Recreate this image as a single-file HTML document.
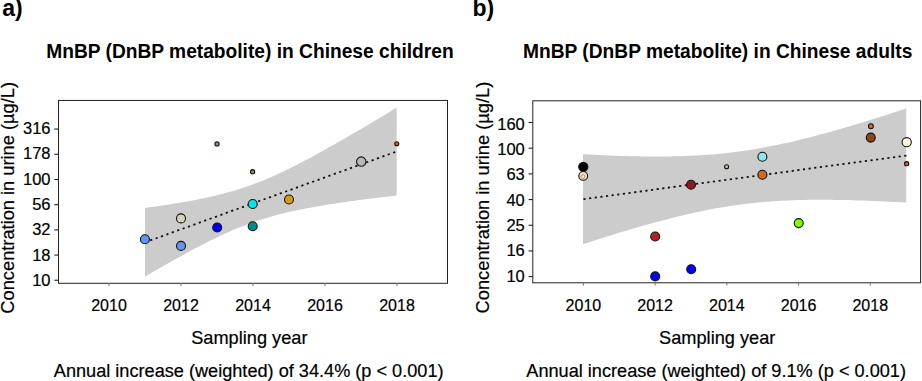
<!DOCTYPE html>
<html><head><meta charset="utf-8"><style>
html,body{margin:0;padding:0;background:#fff;width:922px;height:381px;overflow:hidden}
svg{display:block}
text{font-family:"Liberation Sans",sans-serif;fill:#000;stroke:#000;stroke-width:0.2px}
</style></head><body>
<svg width="922" height="381" viewBox="0 0 922 381">
<path d="M145.00,207.88 L149.19,207.31 L153.39,206.73 L157.59,206.13 L161.78,205.52 L165.97,204.89 L170.17,204.25 L174.37,203.58 L178.56,202.90 L182.75,202.19 L186.95,201.46 L191.14,200.70 L195.34,199.90 L199.53,199.08 L203.73,198.22 L207.93,197.32 L212.12,196.38 L216.31,195.39 L220.51,194.36 L224.70,193.27 L228.90,192.12 L233.09,190.92 L237.29,189.65 L241.48,188.32 L245.68,186.92 L249.88,185.46 L254.07,183.92 L258.26,182.32 L262.46,180.65 L266.65,178.92 L270.85,177.13 L275.04,175.27 L279.24,173.35 L283.44,171.39 L287.63,169.37 L291.82,167.30 L296.02,165.19 L300.22,163.04 L304.41,160.85 L308.61,158.63 L312.80,156.38 L317.00,154.09 L321.19,151.79 L325.38,149.45 L329.58,147.10 L333.77,144.73 L337.97,142.34 L342.16,139.93 L346.36,137.50 L350.55,135.06 L354.75,132.61 L358.94,130.15 L363.14,127.68 L367.33,125.19 L371.53,122.70 L375.73,120.20 L379.92,117.69 L384.12,115.17 L388.31,112.65 L392.50,110.12 L396.70,107.58 L396.70,195.40 L392.50,195.89 L388.31,196.39 L384.12,196.89 L379.92,197.40 L375.73,197.92 L371.53,198.44 L367.33,198.97 L363.14,199.52 L358.94,200.07 L354.75,200.63 L350.55,201.21 L346.36,201.80 L342.16,202.40 L337.97,203.02 L333.77,203.65 L329.58,204.31 L325.38,204.98 L321.19,205.67 L317.00,206.39 L312.80,207.14 L308.61,207.91 L304.41,208.72 L300.22,209.56 L296.02,210.43 L291.82,211.35 L287.63,212.31 L283.44,213.32 L279.24,214.37 L275.04,215.49 L270.85,216.66 L266.65,217.89 L262.46,219.18 L258.26,220.54 L254.07,221.97 L249.88,223.46 L245.68,225.02 L241.48,226.65 L237.29,228.35 L233.09,230.11 L228.90,231.93 L224.70,233.81 L220.51,235.75 L216.31,237.74 L212.12,239.78 L207.93,241.86 L203.73,243.99 L199.53,246.16 L195.34,248.36 L191.14,250.60 L186.95,252.86 L182.75,255.15 L178.56,257.47 L174.37,259.81 L170.17,262.18 L165.97,264.56 L161.78,266.96 L157.59,269.37 L153.39,271.80 L149.19,274.25 L145.00,276.70 Z" fill="#cccccc"/>
<line x1="145.00" y1="242.29" x2="396.70" y2="151.49" stroke="#111" stroke-width="1.8" stroke-dasharray="2.2 3.540" stroke-dashoffset="0.25"/>
<circle cx="144.93" cy="239.30" r="4.50" fill="#6495ed" stroke="#111" stroke-width="1.10"/>
<circle cx="181.00" cy="218.40" r="4.50" fill="#d8d4bc" stroke="#111" stroke-width="1.10"/>
<circle cx="181.00" cy="245.90" r="4.50" fill="#6495ed" stroke="#111" stroke-width="1.10"/>
<circle cx="217.00" cy="143.90" r="2.10" fill="#a08868" stroke="#111" stroke-width="1.10"/>
<circle cx="217.20" cy="227.50" r="4.50" fill="#0000ee" stroke="#111" stroke-width="1.10"/>
<circle cx="252.60" cy="171.70" r="2.10" fill="#a08868" stroke="#111" stroke-width="1.10"/>
<circle cx="252.70" cy="204.00" r="4.50" fill="#00e5ee" stroke="#111" stroke-width="1.10"/>
<circle cx="252.70" cy="226.30" r="4.50" fill="#008b8b" stroke="#111" stroke-width="1.10"/>
<circle cx="289.00" cy="199.50" r="4.50" fill="#d49a14" stroke="#111" stroke-width="1.10"/>
<circle cx="361.25" cy="161.60" r="4.70" fill="#b8b8b8" stroke="#111" stroke-width="1.10"/>
<circle cx="396.76" cy="143.70" r="2.00" fill="#d8661e" stroke="#111" stroke-width="1.10"/>
<rect x="58.50" y="100.45" width="389.00" height="182.85" fill="none" stroke="#222" stroke-width="1.0"/>
<line x1="54.30" y1="129.10" x2="58.50" y2="129.10" stroke="#222" stroke-width="1.1"/>
<text x="50.50" y="134.00" font-size="16.5" text-anchor="end">316</text>
<line x1="54.30" y1="154.29" x2="58.50" y2="154.29" stroke="#222" stroke-width="1.1"/>
<text x="50.50" y="159.30" font-size="16.5" text-anchor="end">178</text>
<line x1="54.30" y1="179.48" x2="58.50" y2="179.48" stroke="#222" stroke-width="1.1"/>
<text x="50.50" y="184.60" font-size="16.5" text-anchor="end">100</text>
<line x1="54.30" y1="204.67" x2="58.50" y2="204.67" stroke="#222" stroke-width="1.1"/>
<text x="50.50" y="209.90" font-size="16.5" text-anchor="end">56</text>
<line x1="54.30" y1="229.86" x2="58.50" y2="229.86" stroke="#222" stroke-width="1.1"/>
<text x="50.50" y="235.20" font-size="16.5" text-anchor="end">32</text>
<line x1="54.30" y1="255.05" x2="58.50" y2="255.05" stroke="#222" stroke-width="1.1"/>
<text x="50.50" y="260.50" font-size="16.5" text-anchor="end">18</text>
<line x1="54.30" y1="280.24" x2="58.50" y2="280.24" stroke="#222" stroke-width="1.1"/>
<text x="50.50" y="285.80" font-size="16.5" text-anchor="end">10</text>
<line x1="109.00" y1="283.30" x2="109.00" y2="286.10" stroke="#777" stroke-width="1"/>
<text x="109.00" y="311.30" font-size="16" text-anchor="middle">2010</text>
<line x1="181.00" y1="283.30" x2="181.00" y2="286.10" stroke="#777" stroke-width="1"/>
<text x="181.00" y="311.30" font-size="16" text-anchor="middle">2012</text>
<line x1="253.00" y1="283.30" x2="253.00" y2="286.10" stroke="#777" stroke-width="1"/>
<text x="253.00" y="311.30" font-size="16" text-anchor="middle">2014</text>
<line x1="325.00" y1="283.30" x2="325.00" y2="286.10" stroke="#777" stroke-width="1"/>
<text x="325.00" y="311.30" font-size="16" text-anchor="middle">2016</text>
<line x1="397.00" y1="283.30" x2="397.00" y2="286.10" stroke="#777" stroke-width="1"/>
<text x="397.00" y="311.30" font-size="16" text-anchor="middle">2018</text>
<text transform="translate(13.80 197.80) rotate(-90)" font-size="18.25" text-anchor="middle">Concentration in urine (µg/L)</text>
<text x="191.20" y="344.30" font-size="18.2">Sampling year</text>
<text x="53.80" y="376.90" font-size="18.15">Annual increase (weighted) of 34.4% (p &lt; 0.001)</text>
<text transform="translate(46.20 57.50) scale(1 1.035)" font-size="19.2" font-weight="bold" style="stroke-width:0">MnBP (DnBP metabolite) in Chinese children</text>
<text x="2.13" y="15.90" font-size="23" font-weight="bold" style="stroke-width:0">a)</text>
<path d="M583.00,154.29 L588.39,154.56 L593.77,154.82 L599.16,155.06 L604.55,155.29 L609.93,155.51 L615.32,155.70 L620.71,155.88 L626.09,156.04 L631.48,156.18 L636.87,156.29 L642.25,156.38 L647.64,156.44 L653.03,156.48 L658.41,156.49 L663.80,156.46 L669.19,156.40 L674.57,156.30 L679.96,156.16 L685.35,155.99 L690.73,155.77 L696.12,155.50 L701.51,155.18 L706.89,154.82 L712.28,154.40 L717.67,153.93 L723.05,153.40 L728.44,152.82 L733.83,152.17 L739.21,151.47 L744.60,150.71 L749.99,149.90 L755.37,149.02 L760.76,148.09 L766.15,147.10 L771.53,146.06 L776.92,144.97 L782.31,143.82 L787.69,142.63 L793.08,141.40 L798.47,140.11 L803.85,138.79 L809.24,137.43 L814.63,136.04 L820.01,134.60 L825.40,133.14 L830.79,131.65 L836.17,130.13 L841.56,128.58 L846.95,127.01 L852.33,125.42 L857.72,123.80 L863.11,122.17 L868.49,120.51 L873.88,118.84 L879.27,117.16 L884.65,115.46 L890.04,113.74 L895.43,112.01 L900.81,110.27 L906.20,108.52 L906.20,202.58 L900.81,202.28 L895.43,201.99 L890.04,201.72 L884.65,201.46 L879.27,201.22 L873.88,200.99 L868.49,200.77 L863.11,200.57 L857.72,200.39 L852.33,200.23 L846.95,200.10 L841.56,199.98 L836.17,199.89 L830.79,199.82 L825.40,199.78 L820.01,199.78 L814.63,199.80 L809.24,199.86 L803.85,199.95 L798.47,200.09 L793.08,200.26 L787.69,200.48 L782.31,200.74 L776.92,201.06 L771.53,201.42 L766.15,201.83 L760.76,202.30 L755.37,202.82 L749.99,203.40 L744.60,204.04 L739.21,204.74 L733.83,205.49 L728.44,206.31 L723.05,207.18 L717.67,208.10 L712.28,209.09 L706.89,210.12 L701.51,211.21 L696.12,212.35 L690.73,213.54 L685.35,214.78 L679.96,216.06 L674.57,217.37 L669.19,218.73 L663.80,220.13 L658.41,221.55 L653.03,223.02 L647.64,224.51 L642.25,226.03 L636.87,227.57 L631.48,229.14 L626.09,230.73 L620.71,232.35 L615.32,233.98 L609.93,235.63 L604.55,237.30 L599.16,238.98 L593.77,240.68 L588.39,242.40 L583.00,244.13 Z" fill="#cccccc"/>
<line x1="583.00" y1="199.21" x2="907.00" y2="155.44" stroke="#111" stroke-width="1.8" stroke-dasharray="2.2 3.479" stroke-dashoffset="-0.45"/>
<circle cx="583.30" cy="166.80" r="4.60" fill="#000000" stroke="#111" stroke-width="1.10"/>
<circle cx="583.20" cy="175.90" r="4.40" fill="#f8e0c0" stroke="#111" stroke-width="1.10"/>
<circle cx="582.90" cy="176.60" r="2.00" fill="#f6e4cc" stroke="#a09080" stroke-width="0.90"/>
<circle cx="655.20" cy="236.50" r="4.50" fill="#b22222" stroke="#111" stroke-width="1.10"/>
<circle cx="655.20" cy="276.40" r="4.50" fill="#0000ff" stroke="#111" stroke-width="1.10"/>
<circle cx="691.00" cy="184.80" r="4.50" fill="#8b1a1a" stroke="#111" stroke-width="1.10"/>
<circle cx="691.20" cy="269.20" r="4.50" fill="#0000ee" stroke="#111" stroke-width="1.10"/>
<circle cx="726.60" cy="166.80" r="2.00" fill="#e0bc88" stroke="#111" stroke-width="1.10"/>
<circle cx="762.40" cy="156.80" r="4.50" fill="#8ee5ee" stroke="#111" stroke-width="1.10"/>
<circle cx="762.40" cy="174.80" r="4.50" fill="#d2691e" stroke="#111" stroke-width="1.10"/>
<circle cx="798.70" cy="223.10" r="4.50" fill="#7cfc00" stroke="#111" stroke-width="1.10"/>
<circle cx="870.90" cy="126.20" r="2.40" fill="#e0701e" stroke="#111" stroke-width="1.10"/>
<circle cx="870.75" cy="137.60" r="4.50" fill="#8b4513" stroke="#111" stroke-width="1.10"/>
<circle cx="906.70" cy="142.20" r="4.60" fill="#fff8dc" stroke="#111" stroke-width="1.10"/>
<circle cx="906.60" cy="163.70" r="2.10" fill="#e0604c" stroke="#111" stroke-width="1.10"/>
<rect x="532.80" y="100.80" width="387.80" height="182.00" fill="none" stroke="#222" stroke-width="1.0"/>
<line x1="528.60" y1="122.50" x2="532.80" y2="122.50" stroke="#222" stroke-width="1.1"/>
<text x="524.80" y="129.79" font-size="16.5" text-anchor="end">160</text>
<line x1="528.60" y1="148.19" x2="532.80" y2="148.19" stroke="#222" stroke-width="1.1"/>
<text x="524.80" y="155.12" font-size="16.5" text-anchor="end">100</text>
<line x1="528.60" y1="173.88" x2="532.80" y2="173.88" stroke="#222" stroke-width="1.1"/>
<text x="524.80" y="180.45" font-size="16.5" text-anchor="end">63</text>
<line x1="528.60" y1="199.57" x2="532.80" y2="199.57" stroke="#222" stroke-width="1.1"/>
<text x="524.80" y="205.78" font-size="16.5" text-anchor="end">40</text>
<line x1="528.60" y1="225.26" x2="532.80" y2="225.26" stroke="#222" stroke-width="1.1"/>
<text x="524.80" y="231.11" font-size="16.5" text-anchor="end">25</text>
<line x1="528.60" y1="250.95" x2="532.80" y2="250.95" stroke="#222" stroke-width="1.1"/>
<text x="524.80" y="256.44" font-size="16.5" text-anchor="end">16</text>
<line x1="528.60" y1="276.64" x2="532.80" y2="276.64" stroke="#222" stroke-width="1.1"/>
<text x="524.80" y="281.77" font-size="16.5" text-anchor="end">10</text>
<line x1="583.40" y1="282.80" x2="583.40" y2="285.60" stroke="#777" stroke-width="1"/>
<text x="583.40" y="311.30" font-size="16" text-anchor="middle">2010</text>
<line x1="655.12" y1="282.80" x2="655.12" y2="285.60" stroke="#777" stroke-width="1"/>
<text x="655.12" y="311.30" font-size="16" text-anchor="middle">2012</text>
<line x1="726.84" y1="282.80" x2="726.84" y2="285.60" stroke="#777" stroke-width="1"/>
<text x="726.84" y="311.30" font-size="16" text-anchor="middle">2014</text>
<line x1="798.56" y1="282.80" x2="798.56" y2="285.60" stroke="#777" stroke-width="1"/>
<text x="798.56" y="311.30" font-size="16" text-anchor="middle">2016</text>
<line x1="870.28" y1="282.80" x2="870.28" y2="285.60" stroke="#777" stroke-width="1"/>
<text x="870.28" y="311.30" font-size="16" text-anchor="middle">2018</text>
<text transform="translate(489.00 197.55) rotate(-90)" font-size="18.25" text-anchor="middle">Concentration in urine (µg/L)</text>
<text x="659.10" y="343.80" font-size="18.2">Sampling year</text>
<text x="526.30" y="376.90" font-size="18.15">Annual increase (weighted) of 9.1% (p &lt; 0.001)</text>
<text transform="translate(523.05 57.50) scale(1 1.035)" font-size="19.2" font-weight="bold" style="stroke-width:0">MnBP (DnBP metabolite) in Chinese adults</text>
<text x="472.45" y="15.90" font-size="23" font-weight="bold" style="stroke-width:0">b)</text>
</svg></body></html>
